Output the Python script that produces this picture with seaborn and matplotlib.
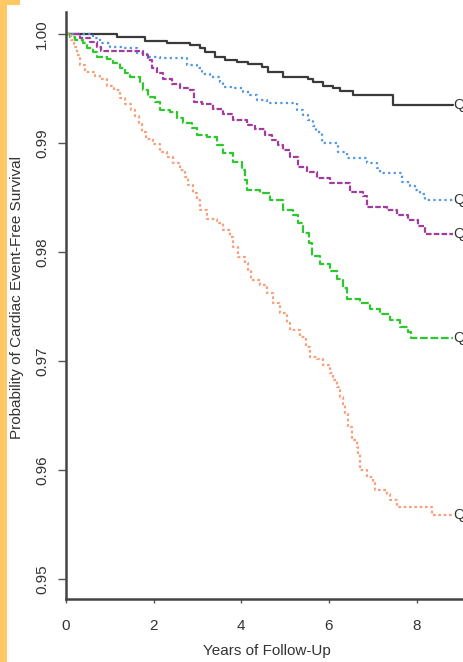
import matplotlib
matplotlib.use("Agg")
import matplotlib.pyplot as plt
from matplotlib.patches import Rectangle
import pandas as pd
import seaborn as sns

# Kaplan-Meier event times (years) and survival after each event, per quintile
q1_years = [1.16, 1.80, 2.30, 2.83, 3.06, 3.17, 3.40, 3.63, 3.90, 4.15, 4.47, 4.61,
            4.95, 5.52, 5.64, 5.86, 6.09, 6.25, 6.55, 7.46]
q1_surv = [0.99968, 0.99936, 0.99913, 0.99899, 0.99871, 0.99839, 0.99793, 0.99761,
           0.99743, 0.99725, 0.99697, 0.99651, 0.99605, 0.99587, 0.99559, 0.99523,
           0.99504, 0.99477, 0.99440, 0.99348]

q2_years = [0.62, 0.78, 1.00, 1.30, 1.62, 1.85, 2.14, 2.76, 2.99, 3.10, 3.29, 3.51,
            3.58, 3.79, 4.04, 4.20, 4.36, 4.59, 5.27, 5.41, 5.52, 5.64, 5.70, 5.84,
            6.21, 6.41, 6.87, 7.10, 7.16, 7.67, 7.85, 7.96, 8.08, 8.19]
q2_surv = [0.99963, 0.99917, 0.99881, 0.99871, 0.99826, 0.99789, 0.99780, 0.99715,
           0.99688, 0.99633, 0.99605, 0.99559, 0.99513, 0.99504, 0.99468, 0.99440,
           0.99394, 0.99367, 0.99302, 0.99256, 0.99211, 0.99155, 0.99100, 0.98999,
           0.98917, 0.98862, 0.98816, 0.98770, 0.98724, 0.98641, 0.98605, 0.98568,
           0.98531, 0.98476]

q3_years = [0.32, 0.55, 0.71, 0.80, 1.76, 1.87, 1.96, 2.08, 2.21, 2.42, 2.60, 2.83,
            2.92, 3.10, 3.35, 3.58, 3.81, 4.13, 4.31, 4.54, 4.70, 4.84, 4.95, 5.11,
            5.29, 5.50, 5.73, 6.02, 6.48, 6.78, 6.87, 7.32, 7.55, 7.80, 8.03, 8.19]
q3_surv = [0.99963, 0.99927, 0.99881, 0.99844, 0.99807, 0.99761, 0.99688, 0.99642,
           0.99587, 0.99541, 0.99504, 0.99486, 0.99376, 0.99357, 0.99312, 0.99266,
           0.99211, 0.99165, 0.99128, 0.99073, 0.99027, 0.98981, 0.98935, 0.98871,
           0.98779, 0.98733, 0.98678, 0.98632, 0.98550, 0.98513, 0.98412, 0.98384,
           0.98338, 0.98293, 0.98237, 0.98164]

q4_years = [0.09, 0.21, 0.39, 0.48, 0.62, 0.71, 0.94, 1.07, 1.23, 1.35, 1.46, 1.69,
            1.76, 1.87, 2.03, 2.14, 2.37, 2.53, 2.67, 2.87, 2.99, 3.22, 3.45, 3.58,
            3.81, 4.02, 4.08, 4.13, 4.43, 4.65, 4.95, 5.18, 5.29, 5.41, 5.54, 5.61,
            5.80, 6.02, 6.18, 6.32, 6.41, 6.71, 6.94, 7.16, 7.39, 7.62, 7.80, 7.87]
q4_surv = [0.99972, 0.99945, 0.99917, 0.99871, 0.99835, 0.99789, 0.99771, 0.99734,
           0.99688, 0.99642, 0.99605, 0.99559, 0.99486, 0.99422, 0.99376, 0.99302,
           0.99284, 0.99229, 0.99183, 0.99137, 0.99073, 0.99054, 0.98981, 0.98908,
           0.98825, 0.98752, 0.98660, 0.98568, 0.98540, 0.98476, 0.98384, 0.98338,
           0.98265, 0.98173, 0.98081, 0.97962, 0.97889, 0.97824, 0.97751, 0.97668,
           0.97567, 0.97531, 0.97476, 0.97430, 0.97375, 0.97310, 0.97264, 0.97209]

q5_years = [0.11, 0.18, 0.25, 0.32, 0.43, 0.66, 0.78, 0.94, 1.10, 1.23, 1.35, 1.48,
            1.57, 1.67, 1.73, 1.83, 1.98, 2.14, 2.30, 2.44, 2.60, 2.72, 2.78, 2.90,
            2.99, 3.06, 3.22, 3.45, 3.58, 3.74, 3.81, 3.92, 4.08, 4.15, 4.22, 4.43,
            4.59, 4.72, 4.88, 5.04, 5.11, 5.34, 5.48, 5.57, 5.73, 5.86, 6.02, 6.09,
            6.18, 6.25, 6.32, 6.37, 6.43, 6.53, 6.64, 6.66, 6.71, 6.87, 7.00, 7.05,
            7.32, 7.39, 7.55, 8.35]
q5_surv = [0.99945, 0.99881, 0.99807, 0.99715, 0.99651, 0.99614, 0.99587, 0.99523,
           0.99486, 0.99412, 0.99357, 0.99302, 0.99247, 0.99174, 0.99100, 0.99036,
           0.98990, 0.98917, 0.98871, 0.98816, 0.98752, 0.98687, 0.98614, 0.98540,
           0.98476, 0.98384, 0.98302, 0.98265, 0.98201, 0.98136, 0.98045, 0.97953,
           0.97898, 0.97834, 0.97742, 0.97696, 0.97622, 0.97531, 0.97439, 0.97347,
           0.97283, 0.97218, 0.97127, 0.97035, 0.97017, 0.96961, 0.96888, 0.96824,
           0.96759, 0.96668, 0.96603, 0.96521, 0.96392, 0.96273, 0.96209, 0.96144,
           0.95998, 0.95933, 0.95878, 0.95814, 0.95777, 0.95722, 0.95658, 0.95584]

groups = ["Q1", "Q2", "Q3", "Q4", "Q5"]
follow_up_end = 8.83
x_ticks = [0, 2, 4, 6, 8]
y_ticks = [0.95, 0.96, 0.97, 0.98, 0.99, 1.00]

series = {
    "Q1": (q1_years, q1_surv),
    "Q2": (q2_years, q2_surv),
    "Q3": (q3_years, q3_surv),
    "Q4": (q4_years, q4_surv),
    "Q5": (q5_years, q5_surv),
}
styles = {
    "Q1": dict(color="#3a3a3a", linestyle="-", lw=1.6),
    "Q2": dict(color="#5096e0", linestyle=(0, (1, 1.5)), lw=1.6),
    "Q3": dict(color="#a03c9c", linestyle=(0, (2.5, 1)), lw=1.6),
    "Q4": dict(color="#2ec82e", linestyle=(0, (3.5, 1.2)), lw=1.6),
    "Q5": dict(color="#f6a07c", linestyle=(0, (1.2, 1.2)), lw=1.6),
}

sns.set_style("ticks")
plt.rcParams["font.family"] = ["Liberation Sans", "DejaVu Sans"]
text_color = "#333333"

W, H = 463, 662
fig = plt.figure(figsize=(W / 100, H / 100), dpi=100)
fig.patch.set_facecolor("white")
# Orange page margin on the left
fig.patches.append(Rectangle((0, 0), 7 / W, 1, transform=fig.transFigure,
                             facecolor="#ffc865", edgecolor="none", zorder=0))
fig.patches.append(Rectangle((0, 1 - 5 / H), 20 / W, 5 / H, transform=fig.transFigure,
                             facecolor="#ffc865", edgecolor="none", zorder=0))

left_px, bottom_px, top_px = 66, 599.3, 12
ax = fig.add_axes([left_px / W, (H - bottom_px) / H, 1 - left_px / W,
                   (bottom_px - top_px) / H])

for g in groups:
    yrs, sv = series[g]
    df = pd.DataFrame({"years": [0.0] + yrs + [follow_up_end],
                       "surv": [1.0] + sv + [sv[-1]]})
    st = styles[g]
    sns.lineplot(data=df, x="years", y="surv", ax=ax, estimator=None, sort=False,
                 drawstyle="steps-post", color=st["color"], linestyle=st["linestyle"],
                 linewidth=st["lw"], legend=False)
    ax.text(follow_up_end + 0.01, sv[-1], g, ha="left", va="center",
            fontsize=10.5, color=text_color, clip_on=False)

ax.set_xlim(0, (W - left_px) / 43.83)
ax.set_ylim(0.94811, 1.00202)
ax.set_xticks(x_ticks)
ax.set_xticklabels([str(t) for t in x_ticks])
ax.set_yticks(y_ticks)
ax.set_yticklabels([f"{t:.2f}" for t in y_ticks], rotation=90, va="center")

sns.despine(ax=ax)
for side in ("left", "bottom"):
    ax.spines[side].set_linewidth(1.8)
    ax.spines[side].set_color("#444444")
ax.tick_params(axis="y", length=6, width=1, colors="#555555", labelcolor=text_color,
               labelsize=11, pad=6)
ax.tick_params(axis="x", length=3, width=1, colors="#555555", labelcolor=text_color,
               labelsize=11, pad=11)

ax.set_xlabel("Years of Follow-Up", fontsize=11, color=text_color)
ax.set_ylabel("Probability of Cardiac Event-Free Survival", fontsize=11,
              color=text_color)
ax.xaxis.set_label_coords((267 - left_px) / (W - left_px),
                          -(644 - bottom_px) / (bottom_px - top_px))
ax.yaxis.set_label_coords(-(left_px - 24) / (W - left_px),
                          (bottom_px - 298) / (bottom_px - top_px))

fig.savefig("out.png", dpi=100, facecolor=fig.get_facecolor())
